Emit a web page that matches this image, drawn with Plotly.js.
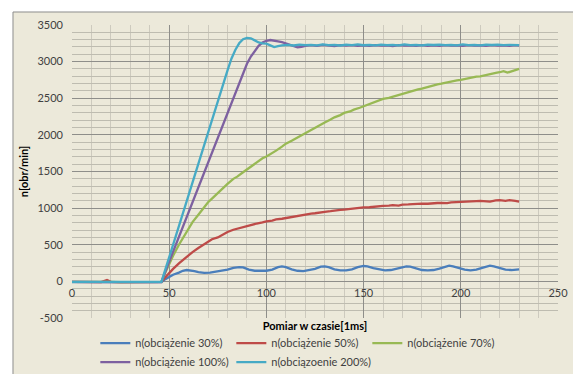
<!DOCTYPE html>
<html>
<head>
<meta charset="utf-8">
<script src="https://cdn.plot.ly/plotly-3.0.1.min.js"></script>
<style>html,body{margin:0;padding:0;background:#fff;}#chart{width:573px;height:374px;}</style>
</head>
<body>
<div id="chart"></div>
<script>
// ---- data ----
const seriesNames = ["n(obciążenie 30%)", "n(obciążenie 50%)", "n(obciążenie 70%)", "n(obciążenie 100%)", "n(obciązoenie 200%)"];
const seriesColors = ["#4A7EBB", "#BE4B48", "#98B954", "#7D60A0", "#46AAC5"];

const blueX = [0,5,10,15,20,25,30,35,40,45,46,48,50,52,55,57,59,61,63,65,68,71,74,77,80,83,86,88,91,94,97,100,103,106,108,110,113,116,119,122,125,128,130,132,135,138,141,144,147,150,152,155,158,161,164,167,170,172,174,177,180,183,186,189,192,194,196,199,202,205,208,211,213,215,217,220,223,226,228,230];
const blueY = [-10,-8,-12,-9,-10,-11,-9,-10,-12,-10,-10,30,60,90,120,145,155,150,140,125,115,120,130,145,160,185,195,190,160,145,140,145,160,195,205,195,165,145,140,150,170,200,205,195,165,150,150,165,195,210,205,180,160,150,155,170,195,205,200,175,155,150,155,175,205,215,205,180,160,150,160,185,205,215,205,180,160,155,160,165];

const redX = [0,5,10,15,18,20,25,30,35,40,45,46,48,50,52,55,58,60,62,65,68,70,72,75,78,80,83,85,88,90,93,95,98,100,103,105,108,110,113,115,118,120,123,125,128,130,133,135,138,140,143,145,148,150,153,155,158,160,163,165,168,170,173,175,178,180,183,185,188,190,193,195,198,200,203,205,208,210,213,215,218,220,223,225,228,230];
const redY = [-8,-10,-6,-9,18,-7,-9,-8,-10,-7,-9,-8,55,115,170,245,315,365,400,455,505,535,575,600,650,675,705,720,745,760,775,790,805,820,830,845,855,865,880,895,900,910,925,930,945,950,958,968,975,980,990,995,1005,1010,1012,1020,1025,1030,1035,1040,1035,1048,1050,1055,1058,1062,1060,1068,1070,1072,1068,1078,1080,1082,1085,1088,1095,1098,1092,1088,1105,1110,1100,1108,1100,1090];

const greenX = [0,5,10,15,20,25,30,35,40,45,46,48,50,52,55,58,60,62,65,68,70,72,75,78,80,83,85,88,90,93,95,98,100,103,105,108,110,113,115,118,120,123,125,128,130,133,135,138,140,143,145,148,150,153,155,158,160,163,165,168,170,173,175,178,180,183,185,188,190,193,195,198,200,203,205,208,210,213,215,218,220,222,224,226,228,230];
const greenY = [-6,-9,-7,-10,-8,-9,-7,-10,-8,-9,-8,120,240,350,500,640,730,810,910,1010,1080,1130,1210,1290,1330,1400,1430,1490,1530,1590,1630,1680,1705,1750,1785,1840,1880,1920,1950,1990,2030,2070,2100,2140,2170,2210,2240,2270,2300,2320,2345,2370,2390,2420,2440,2470,2490,2505,2520,2545,2560,2590,2600,2620,2630,2655,2670,2690,2700,2720,2730,2745,2752,2770,2780,2795,2800,2820,2830,2845,2855,2870,2850,2868,2885,2900];

const purpleX = [0,5,10,15,20,25,30,35,40,45,46,50,55,60,65,70,75,80,85,88,90,92,94,96,98,100,102,104,106,108,110,112,114,116,118,120,123,126,129,132,135,138,141,144,147,150,153,156,159,162,165,168,171,174,177,180,183,186,189,192,195,198,201,204,207,210,213,216,219,222,225,228,230];
const purpleY = [-8,-10,-7,-9,-8,-10,-9,-8,-10,-9,-9,270,610,950,1290,1630,1970,2310,2650,2850,2970,3070,3150,3215,3260,3285,3295,3290,3275,3265,3245,3230,3205,3195,3200,3215,3225,3215,3228,3220,3212,3225,3218,3226,3215,3222,3214,3225,3218,3222,3212,3226,3218,3222,3214,3225,3216,3222,3214,3226,3218,3222,3215,3225,3218,3222,3214,3226,3218,3222,3215,3224,3220];

const cyanX = [0,5,10,15,20,25,30,35,40,45,46,50,55,60,65,70,75,80,82,84,86,88,90,92,94,96,98,100,102,104,106,108,111,114,117,120,123,126,129,132,135,138,141,144,147,150,153,156,159,162,165,168,171,174,177,180,183,186,189,192,195,198,201,204,207,210,213,216,219,222,225,228,230];
const cyanY = [-8,-9,-10,-8,-9,-10,-8,-9,-10,-8,-8,330,760,1190,1620,2050,2480,2880,3040,3160,3250,3305,3325,3318,3290,3262,3250,3245,3222,3198,3210,3222,3228,3220,3232,3224,3230,3222,3234,3226,3230,3220,3232,3226,3234,3224,3230,3222,3233,3225,3230,3222,3234,3226,3229,3221,3232,3227,3233,3224,3230,3222,3234,3226,3230,3221,3232,3227,3233,3225,3230,3228,3226];

const xTicks = [0, 50, 100, 150, 200, 250];
const yTicks = [-500, 0, 500, 1000, 1500, 2000, 2500, 3000, 3500];

// ---- chart ----
const xs = [blueX, redX, greenX, purpleX, cyanX];
const ys = [blueY, redY, greenY, purpleY, cyanY];
const traces = seriesNames.map((name, i) => ({
  type: 'scatter', mode: 'lines', name: name,
  x: xs[i], y: ys[i],
  line: {color: seriesColors[i], width: 2.3},
  hoverinfo: 'skip'
}));

const bg = '#ECE9DA';
const fam = 'Lato, "Liberation Sans", sans-serif';
const tickFont = {family: fam, size: 11, color: '#404040'};

const layout = {
  width: 573, height: 374,
  margin: {l: 72, r: 15, t: 25, b: 56, pad: 0, autoexpand: false},
  paper_bgcolor: bg,
  plot_bgcolor: bg,
  showlegend: true,
  hovermode: false,
  font: tickFont,
  xaxis: {
    range: [0, 250], tickmode: 'array', tickvals: xTicks, ticktext: xTicks.map(String),
    showgrid: true, gridcolor: '#8E8E8A', gridwidth: 1,
    minor: {dtick: 10, tick0: 0, showgrid: true, gridcolor: '#CDCABE', gridwidth: 1},
    zeroline: false, showline: false, ticks: '',
    anchor: 'free', position: 0.125,
    ticklabelstandoff: 4,
    tickfont: tickFont,
    automargin: false,
    title: {text: '<b>Pomiar w czasie[1ms]</b>', font: {family: fam, size: 11, color: '#000'}, standoff: 23}
  },
  yaxis: {
    range: [-500, 3500], tickmode: 'array', tickvals: yTicks, ticktext: yTicks.map(String),
    showgrid: true, gridcolor: '#8E8E8A', gridwidth: 1,
    minor: {dtick: 100, tick0: 0, showgrid: true, gridcolor: '#BEBCB0', gridwidth: 1},
    zeroline: false, showline: false, ticks: '',
    ticklabelstandoff: 8,
    tickfont: tickFont,
    automargin: false,
    title: {text: '<b>n[obr/min]</b>', font: {family: fam, size: 11, color: '#000'}, standoff: 6}
  },
  legend: {
    orientation: 'h', x: 0.048, xanchor: 'left', y: -0.036, yanchor: 'top',
    entrywidth: 91, entrywidthmode: 'pixels',
    font: tickFont, bgcolor: 'rgba(0,0,0,0)', borderwidth: 0
  },
  shapes: [
    {type: 'rect', xref: 'paper', yref: 'paper', layer: 'above',
     x0: -0.2, x1: 1.1, y0: 1.0444, y1: 1.2, fillcolor: '#ffffff', line: {width: 0}},
    {type: 'rect', xref: 'paper', yref: 'paper', layer: 'above',
     x0: -0.2, x1: -0.1214, y0: -0.3, y1: 1.2, fillcolor: '#ffffff', line: {width: 0}},
    {type: 'line', xref: 'paper', yref: 'paper', layer: 'above',
     x0: -0.1214, x1: 1.1, y0: 1.0444, y1: 1.0444, line: {color: '#8C8C8C', width: 1}},
    {type: 'line', xref: 'paper', yref: 'paper', layer: 'above',
     x0: -0.1214, x1: -0.1214, y0: -0.3, y1: 1.0444, line: {color: '#8C8C8C', width: 1}}
  ]
};

Plotly.newPlot('chart', traces, layout, {displayModeBar: false, staticPlot: true});
</script>
</body>
</html>
